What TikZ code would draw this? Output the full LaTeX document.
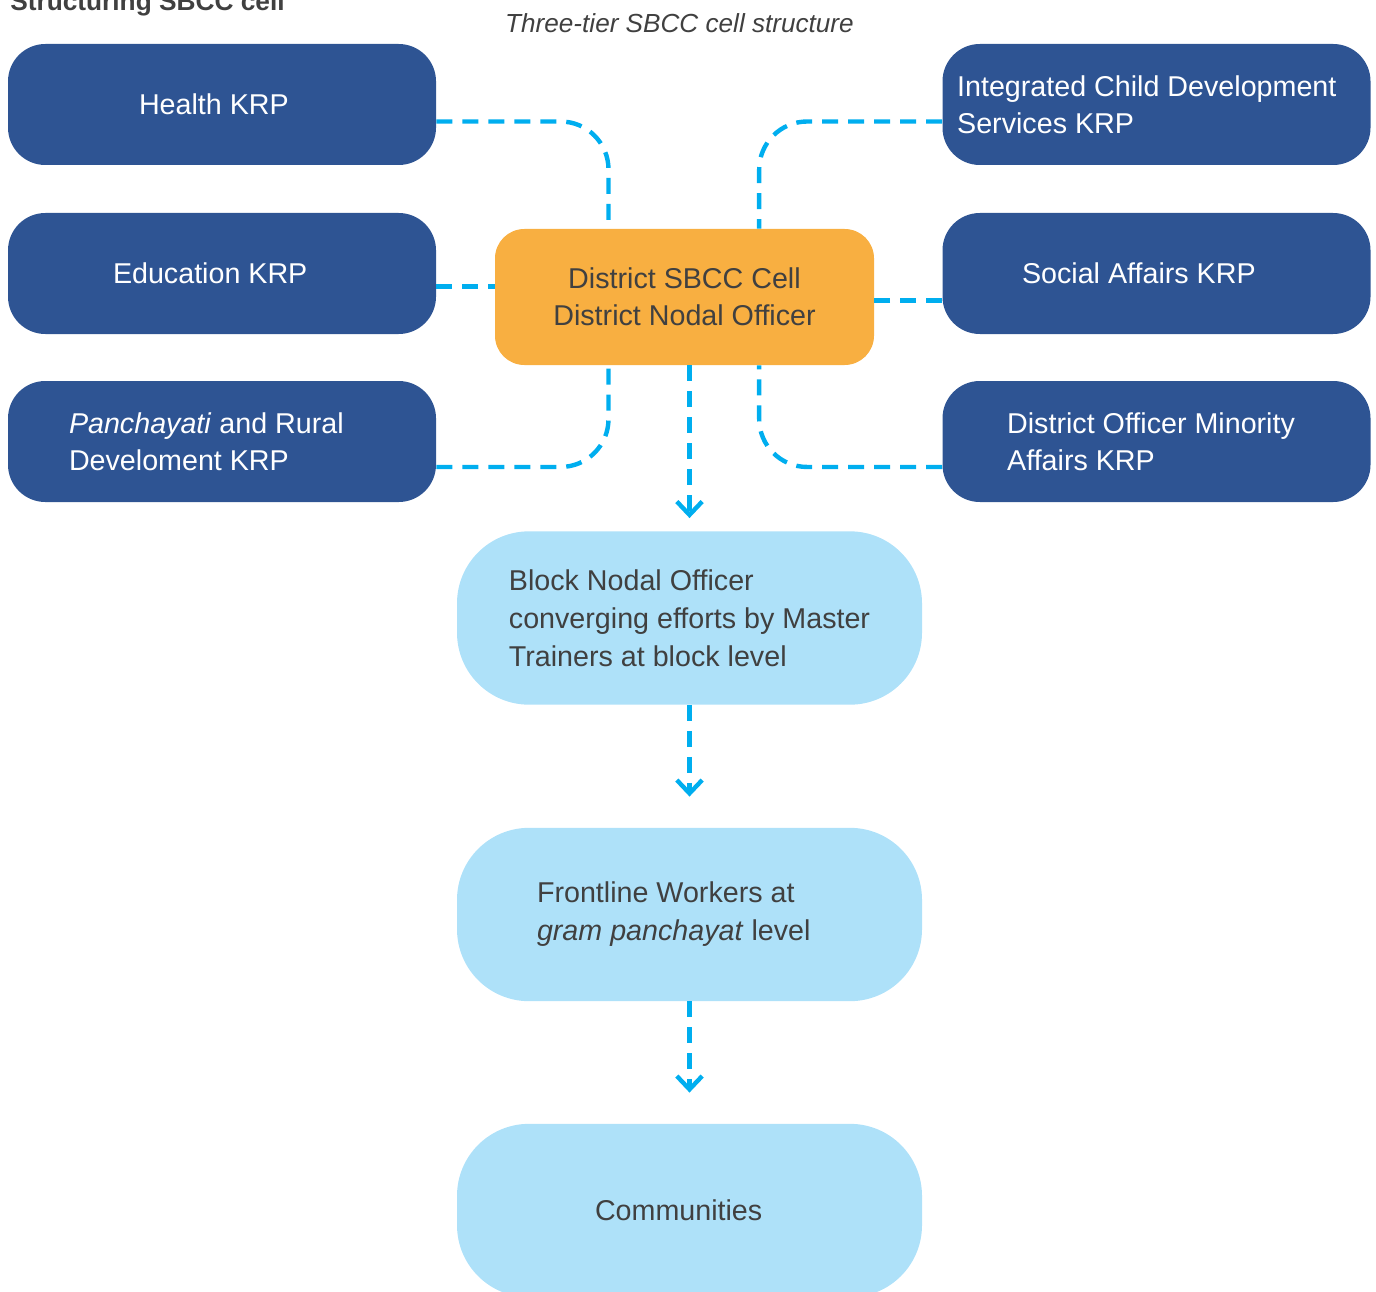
\documentclass[tikz,border=0pt]{standalone}
\usepackage{fontspec}
\setmainfont{Liberation Sans}
\usetikzlibrary{arrows.meta,positioning}
\definecolor{krpblue}{RGB}{46,84,147}
\definecolor{cellorange}{RGB}{248,175,65}
\definecolor{tierblue}{RGB}{174,225,249}
\definecolor{linkcyan}{RGB}{0,174,239}
\definecolor{textgrey}{RGB}{64,64,64}
\tikzset{
  krpbox/.style={rectangle, rounded corners=28pt, fill=krpblue, text=white,
                 minimum width=321pt, minimum height=90.75pt, align=flush left,
                 font=\fontsize{21.5}{27.75}\selectfont},
  cellbox/.style={rectangle, rounded corners=22pt, fill=cellorange, text=textgrey,
                  minimum width=284.25pt, minimum height=102pt, align=center,
                  font=\fontsize{21.5}{27.75}\selectfont},
  tierbox/.style={rectangle, rounded corners=54pt, fill=tierblue, text=textgrey,
                  minimum width=348.75pt, minimum height=130pt, align=flush left,
                  font=\fontsize{21.5}{28.5}\selectfont},
  klink/.style={linkcyan, line width=3.3pt, dash pattern=on 12pt off 7.5pt},
  karrow/.style={klink, -{Straight Barb[length=10pt, width=19pt]}},
}
\begin{document}
\begin{tikzpicture}[x=0.75pt, y=-0.75pt]
\useasboundingbox (0,0) rectangle (1376,1291);
\node[anchor=base west, inner sep=0pt, text=textgrey,
      font=\fontsize{19.7}{24}\selectfont\bfseries] (title) at (10,11) {Structuring SBCC cell};
\node[anchor=base, inner sep=0pt, text=textgrey,
      font=\fontsize{19.6}{24}\selectfont\itshape] (sub) at (679.5,33) {Three-tier SBCC cell structure};
% key resource persons
\node[krpbox, text width=124.5pt] (health) at (222,104.5)  {Health KRP};
\node[krpbox, text width=163.5pt] (educ)   at (222,273.5)  {Education KRP};
\node[krpbox, text width=229.5pt] (panch)  at (222,441.5)  {\textit{Panchayati} and Rural\\Develoment KRP};
\node[krpbox, text width=299pt]   (icds)   at (1156.5,104.5) {Integrated Child Development\\Services KRP};
\node[krpbox, text width=201.75pt] (social) at (1156.5,273.5) {Social Affairs KRP};
\node[krpbox, text width=224pt]   (minor)  at (1156.5,441.5) {District Officer Minority\\Affairs KRP};
% tiers
\node[cellbox] (dso)   at (684.5,297)  {District SBCC Cell\\District Nodal Officer};
\node[tierbox] (block) at (689.5,618)  {Block Nodal Officer\\converging efforts by Master\\Trainers at block level};
\node[tierbox, text width=228.75pt] (front) at (689.5,914.5) {Frontline Workers at\\\textit{gram panchayat} level};
\node[tierbox, text width=141.75pt] (comm)  at (689.5,1210.5) {Communities};
% links to the cell
\coordinate (hL) at ([yshift=-12.75pt]health.east);
\coordinate (eL) at ([yshift=-9.75pt]educ.east);
\coordinate (pL) at ([yshift=-19.1pt]panch.east);
\coordinate (iL) at ([yshift=-12.75pt]icds.west);
\coordinate (sL) at ([yshift=-20.25pt]social.west);
\coordinate (mL) at ([yshift=-19.1pt]minor.west);
\draw[klink, rounded corners=36pt] (hL) -| ([xshift=-57pt]dso.north);
\draw[klink, rounded corners=36pt] (iL) -| ([xshift=56pt]dso.north);
\draw[klink, rounded corners=36pt] (pL) -| ([xshift=-57pt]dso.south);
\draw[klink, rounded corners=36pt] (mL) -| ([xshift=56pt]dso.south);
\draw[klink] (eL) -- (eL -| dso.west);
\draw[klink] (sL) -- (sL -| dso.east);
% down the tiers
\draw[karrow] (dso.south -| block.north) -- ([yshift=9.75pt]block.north);
\draw[karrow] (block.south) -- ([yshift=23.25pt]front.north);
\draw[karrow] (front.south) -- ([yshift=23.25pt]comm.north);
\end{tikzpicture}
\end{document}
